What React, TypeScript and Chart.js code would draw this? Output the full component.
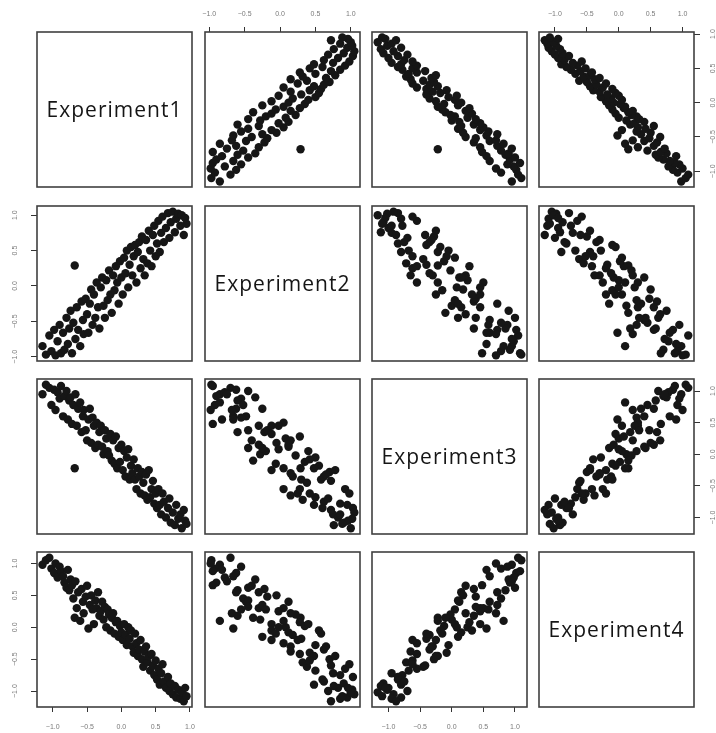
import React, { useEffect, useRef } from 'react';
import { Chart, registerables } from 'chart.js';

Chart.register(...registerables);

// Variables of the scatterplot matrix
const VARIABLE_NAMES = ['Experiment1', 'Experiment2', 'Experiment3', 'Experiment4'];
const TICK_VALUES = [-1, -0.5, 0, 0.5, 1];
const AXIS_MIN = [-1.23, -1.06, -1.26, -1.25];
const AXIS_MAX = [1.03, 1.13, 1.19, 1.18];

// One value per observation, same order in every series
const experiment1 = [
  -1.15, -1.10, -1.05, -1.02, -0.98, -0.96, -0.93, -0.90, -0.88, -0.85, -0.83, -0.80,
  -0.78, -0.76, -0.74, -0.72, -0.70, -0.68, -0.67, -0.65, -0.63, -0.60, -0.58, -0.56,
  -0.55, -0.52, -0.50, -0.48, -0.46, -0.44, -0.42, -0.40, -0.38, -0.36, -0.34, -0.32,
  -0.30, -0.28, -0.26, -0.24, -0.22, -0.20, -0.18, -0.16, -0.14, -0.12, -0.10, -0.08,
  -0.06, -0.04, -0.02, 0.00, 0.02, 0.04, 0.06, 0.08, 0.10, 0.12, 0.14, 0.16,
  0.18, 0.20, 0.22, 0.24, 0.26, 0.28, 0.30, 0.32, 0.34, 0.36, 0.38, 0.40,
  0.42, 0.44, 0.46, 0.48, 0.50, 0.52, 0.54, 0.56, 0.58, 0.60, 0.62, 0.65,
  0.68, 0.70, 0.72, 0.75, 0.78, 0.80, 0.83, 0.86, 0.88, 0.91, 0.93, 0.95,
];
const experiment2 = [
  -0.85, -0.97, -0.70, -0.92, -0.62, -0.98, -0.78, -0.55, -0.95, -0.66, -0.90, -0.45,
  -0.82, -0.60, -0.35, -0.95, -0.52, 0.29, -0.75, -0.30, -0.62, -0.85, -0.22, -0.48,
  -0.68, -0.18, -0.40, -0.66, -0.25, -0.05, -0.55, -0.12, -0.45, 0.05, -0.30, -0.60,
  -0.02, 0.12, -0.28, -0.45, 0.08, -0.20, 0.22, -0.12, -0.38, 0.15, -0.06, 0.28,
  0.05, -0.25, 0.35, 0.12, -0.12, 0.40, 0.18, 0.50, -0.02, 0.30, 0.55, 0.15,
  0.42, 0.58, 0.05, 0.48, 0.62, 0.25, 0.70, 0.38, 0.15, 0.65, 0.32, 0.78,
  0.50, 0.28, 0.72, 0.85, 0.42, 0.60, 0.92, 0.48, 0.75, 0.98, 0.62, 0.82,
  1.03, 0.68, 0.90, 1.05, 0.76, 0.95, 1.02, 0.85, 1.00, 0.72, 0.96, 0.88,
];
const experiment3 = [
  0.95, 1.10, 1.05, 0.78, 1.02, 0.70, 0.98, 0.88, 1.08, 0.60, 0.92, 1.00,
  0.55, 0.85, 0.90, 0.48, 0.78, -0.22, 0.95, 0.45, 0.72, 0.82, 0.35, 0.60,
  0.70, 0.38, 0.22, 0.55, 0.72, 0.18, 0.58, 0.45, 0.10, 0.50, 0.15, 0.35,
  0.45, 0.12, 0.00, 0.38, 0.25, 0.05, -0.02, 0.32, -0.10, 0.22, -0.15, 0.28,
  -0.22, 0.10, -0.12, 0.15, -0.25, 0.05, -0.35, -0.05, 0.08, -0.40, -0.18, -0.30,
  -0.08, -0.40, -0.55, -0.22, -0.35, -0.62, -0.28, -0.45, -0.65, -0.32, -0.72, -0.25,
  -0.68, -0.55, -0.42, -0.78, -0.62, -0.85, -0.55, -0.80, -0.95, -0.62, -0.75, -1.00,
  -0.85, -0.70, -1.08, -0.92, -1.12, -0.80, -1.02, -0.95, -1.17, -0.88, -1.05, -1.10,
];
const experiment4 = [
  0.98, 1.05, 1.09, 0.92, 0.85, 1.00, 0.78, 0.95, 0.88, 0.80, 0.70, 0.62,
  0.90, 0.58, 0.75, 0.66, 0.45, 0.15, 0.72, 0.30, 0.55, 0.10, 0.60, 0.40,
  0.22, 0.48, 0.65, -0.02, 0.35, 0.50, 0.28, 0.05, 0.42, 0.30, 0.55, 0.18,
  0.25, 0.40, 0.12, 0.32, 0.00, 0.28, 0.20, -0.05, 0.15, 0.22, -0.10, 0.08,
  0.10, -0.15, 0.02, -0.08, -0.20, 0.05, -0.12, -0.28, 0.00, -0.18, -0.05, -0.30,
  -0.40, -0.10, -0.25, -0.45, -0.35, -0.20, -0.50, -0.62, -0.38, -0.30, -0.55, -0.45,
  -0.68, -0.42, -0.60, -0.75, -0.52, -0.82, -0.65, -0.90, -0.72, -0.58, -0.85, -0.95,
  -0.78, -1.00, -0.88, -1.05, -0.92, -1.10, -0.98, -1.12, -1.02, -1.16, -0.95, -1.08,
];
const SERIES = [experiment1, experiment2, experiment3, experiment4];

// Grid geometry (px)
const PANEL_LEFT = [37, 205, 372, 539];
const PANEL_TOP = [32, 206, 379, 552];
const PANEL_SIZE = 155;
const MARGIN = 36;
const X_AXIS_BAND = 26;
const Y_AXIS_BAND = 30;

const TICK_FONT = { family: "'Liberation Sans', Arial, sans-serif", size: 7 };
const TICK_COLOR = '#7a7a7a';
const TICK_MARK_COLOR = '#333333';

const formatTick = (v: number | string) => Number(v).toFixed(1).replace('-', '\u2212');

// Outline of every panel, drawn over the points
const panelFrame = {
  id: 'panelFrame',
  afterDatasetsDraw(chart: any) {
    const { ctx, chartArea } = chart;
    ctx.save();
    ctx.strokeStyle = '#404040';
    ctx.lineWidth = 1.6;
    ctx.strokeRect(chartArea.left, chartArea.top, chartArea.right - chartArea.left, chartArea.bottom - chartArea.top);
    ctx.restore();
  },
};

// Variable name written in the middle of a diagonal panel
const diagonalLabel = {
  id: 'diagonalLabel',
  afterDraw(chart: any, _args: any, opts: any) {
    if (!opts || !opts.text) return;
    const { ctx, chartArea } = chart;
    const size = 21;
    ctx.save();
    ctx.font = `${size}px 'Open Sans', 'Noto Sans', sans-serif`;
    (ctx as any).letterSpacing = '1px';
    ctx.fillStyle = '#151515';
    ctx.textAlign = 'center';
    ctx.textBaseline = 'alphabetic';
    const cx = (chartArea.left + chartArea.right) / 2;
    const cy = (chartArea.top + chartArea.bottom) / 2 + size * 0.357;
    ctx.fillText(opts.text, cx, cy);
    ctx.restore();
  },
};

function axisConfig(axis: 'x' | 'y', variable: number, position: string | null) {
  const shown = position !== null;
  const horizontal = axis === 'x';
  const padding = horizontal ? (position === 'top' ? 9 : 11) : position === 'left' ? 9 : 6;
  return {
    type: 'linear' as const,
    display: shown,
    position: position || (horizontal ? 'bottom' : 'left'),
    min: AXIS_MIN[variable],
    max: AXIS_MAX[variable],
    afterBuildTicks: (scale: any) => {
      scale.ticks = TICK_VALUES.map((value) => ({ value }));
    },
    afterFit: (scale: any) => {
      if (!shown) {
        scale.width = 0;
        scale.height = 0;
      } else if (horizontal) scale.height = X_AXIS_BAND;
      else scale.width = Y_AXIS_BAND;
    },
    grid: {
      drawOnChartArea: false,
      drawTicks: true,
      tickLength: horizontal ? 5 : 6,
      color: TICK_MARK_COLOR,
      lineWidth: 1,
    },
    border: { display: false },
    ticks: {
      autoSkip: false,
      font: TICK_FONT,
      color: TICK_COLOR,
      padding,
      callback: formatTick,
      ...(horizontal
        ? { maxRotation: 0, minRotation: 0 }
        : { minRotation: 90, maxRotation: 90, crossAlign: 'center' as const }),
    },
  };
}

function Panel({ row, col }: { row: number; col: number }) {
  const canvasRef = useRef<HTMLCanvasElement | null>(null);

  useEffect(() => {
    const canvas = canvasRef.current;
    if (!canvas) return;
    const diagonal = row === col;
    // outer axes alternate sides, as in a classic pairs plot
    const xPos = row === 0 && col % 2 === 1 ? 'top' : row === 3 && col % 2 === 0 ? 'bottom' : null;
    const yPos = col === 0 && row % 2 === 1 ? 'left' : col === 3 && row % 2 === 0 ? 'right' : null;

    const points = diagonal ? [] : SERIES[col].map((xv, i) => ({ x: xv, y: SERIES[row][i] }));

    const chart = new Chart(canvas, {
      type: 'scatter',
      data: {
        datasets: [
          {
            data: points,
            pointRadius: 4.2,
            pointHoverRadius: 4.2,
            pointBorderWidth: 0,
            pointBackgroundColor: '#161616',
            borderColor: '#161616',
            clip: 0,
          },
        ],
      },
      options: {
        animation: false,
        responsive: false,
        devicePixelRatio: 1,
        events: [],
        layout: {
          padding: {
            top: MARGIN - (xPos === 'top' ? X_AXIS_BAND : 0),
            bottom: MARGIN - (xPos === 'bottom' ? X_AXIS_BAND : 0),
            left: MARGIN - (yPos === 'left' ? Y_AXIS_BAND : 0),
            right: MARGIN - (yPos === 'right' ? Y_AXIS_BAND : 0),
          },
        },
        scales: {
          x: axisConfig('x', col, xPos) as any,
          y: axisConfig('y', row, yPos) as any,
        },
        plugins: {
          legend: { display: false },
          tooltip: { enabled: false },
          diagonalLabel: { text: diagonal ? VARIABLE_NAMES[row] : '' },
        } as any,
      },
      plugins: [panelFrame, diagonalLabel],
    });

    return () => chart.destroy();
  }, [row, col]);

  const size = PANEL_SIZE + 2 * MARGIN;
  return (
    <canvas
      ref={canvasRef}
      width={size}
      height={size}
      style={{
        position: 'absolute',
        left: PANEL_LEFT[col] - MARGIN,
        top: PANEL_TOP[row] - MARGIN,
        width: size,
        height: size,
      }}
    />
  );
}

export default function App() {
  const cells: { row: number; col: number }[] = [];
  for (let r = 0; r < 4; r++) for (let c = 0; c < 4; c++) cells.push({ row: r, col: c });
  return (
    <div
      style={{
        position: 'fixed',
        left: 0,
        top: 0,
        width: 716,
        height: 733,
        overflow: 'hidden',
        background: '#ffffff',
      }}
    >
      {cells.map(({ row, col }) => (
        <Panel key={`${row}-${col}`} row={row} col={col} />
      ))}
    </div>
  );
}
